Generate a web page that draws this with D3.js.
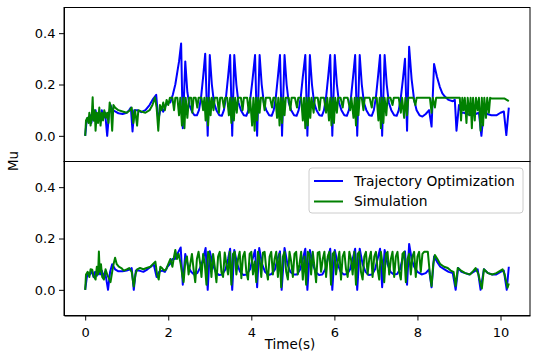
<!DOCTYPE html>
<html>
<head>
<meta charset="utf-8">
<script src="https://cdn.jsdelivr.net/npm/d3@7"></script>
<style>
  body { margin: 0; background: #fff; }
  text { font-family: "DejaVu Sans", sans-serif; fill: #000; }
  .axis path, .axis line { stroke: #000; stroke-width: 1; }
  .axis text { font-size: 13px; }
  .line { fill: none; stroke-width: 2; stroke-linejoin: round; }
</style>
</head>
<body>
<script>
// top panel: trajectory optimization (blue) and simulation (green), [time, mu]
var topTraj = [
	[0.00,0.00],[0.03,0.05],[0.06,0.07],[0.09,0.06],[0.12,0.08],[0.15,0.05],[0.18,0.09],[0.21,0.06],
	[0.25,0.10],[0.28,0.07],[0.32,0.09],[0.36,0.06],[0.40,0.10],[0.44,0.07],[0.48,0.09],[0.53,0.00],
	[0.57,0.08],[0.61,0.12],[0.66,0.10],[0.72,0.095],[0.80,0.088],[0.90,0.085],[1.00,0.09],[1.06,0.10],
	[1.10,0.11],[1.14,0.017],[1.18,0.10],[1.25,0.10],[1.35,0.092],[1.45,0.10],[1.55,0.12],[1.62,0.14],
	[1.71,0.16],[1.76,0.06],[1.82,0.11],[1.88,0.094],[1.94,0.12],[2.00,0.13],[2.05,0.13],[2.11,0.16],
	[2.17,0.20],[2.22,0.25],[2.26,0.29],[2.31,0.36],[2.35,0.03],[2.41,0.29],[2.46,0.17],[2.51,0.12],
	[2.57,0.095],[2.63,0.08],[2.69,0.08],[2.74,0.10],[2.79,0.15],[2.84,0.23],[2.89,0.32],[2.95,0.00],
	[3.00,0.315],[3.05,0.20],[3.10,0.13],[3.16,0.10],[3.23,0.08],[3.29,0.078],[3.34,0.10],[3.39,0.15],
	[3.44,0.23],[3.49,0.315],[3.54,0.00],[3.59,0.315],[3.64,0.20],[3.69,0.13],[3.75,0.10],[3.82,0.08],
	[3.88,0.078],[3.93,0.10],[3.98,0.15],[4.03,0.22],[4.09,0.315],[4.14,0.00],[4.20,0.315],[4.25,0.20],
	[4.30,0.13],[4.36,0.10],[4.43,0.08],[4.49,0.078],[4.54,0.10],[4.59,0.15],[4.64,0.23],[4.69,0.315],
	[4.74,0.00],[4.80,0.315],[4.85,0.20],[4.90,0.13],[4.96,0.10],[5.03,0.08],[5.09,0.078],[5.14,0.10],
	[5.19,0.15],[5.24,0.23],[5.30,0.315],[5.35,0.00],[5.41,0.315],[5.46,0.20],[5.51,0.13],[5.57,0.10],
	[5.64,0.08],[5.70,0.078],[5.75,0.10],[5.80,0.15],[5.85,0.23],[5.90,0.315],[5.95,0.00],[6.01,0.315],
	[6.06,0.20],[6.11,0.13],[6.17,0.10],[6.24,0.08],[6.30,0.078],[6.35,0.10],[6.40,0.15],[6.45,0.23],
	[6.50,0.315],[6.55,0.00],[6.61,0.315],[6.66,0.20],[6.71,0.13],[6.77,0.10],[6.84,0.08],[6.90,0.078],
	[6.95,0.10],[7.00,0.15],[7.05,0.23],[7.10,0.315],[7.15,0.00],[7.21,0.315],[7.26,0.20],[7.31,0.13],
	[7.37,0.10],[7.44,0.08],[7.50,0.078],[7.55,0.10],[7.60,0.15],[7.65,0.22],[7.70,0.30],[7.75,0.02],
	[7.80,0.347],[7.86,0.22],[7.92,0.14],[7.98,0.10],[8.05,0.08],[8.12,0.075],[8.20,0.085],[8.28,0.10],
	[8.34,0.036],[8.40,0.28],[8.47,0.23],[8.54,0.19],[8.60,0.165],[8.66,0.153],[8.75,0.14],[8.85,0.135],
	[8.90,0.14],[8.94,0.02],[9.00,0.12],[9.06,0.09],[9.12,0.09],[9.20,0.085],[9.30,0.08],[9.40,0.085],
	[9.48,0.09],[9.54,0.00],[9.60,0.10],[9.68,0.085],[9.78,0.08],[9.90,0.08],[10.00,0.09],[10.08,0.095],
	[10.14,0.003],[10.20,0.11]
];

var topSim = [
	[0.00,0.00],[0.02,0.06],[0.05,0.07],[0.08,0.05],[0.10,0.09],[0.13,0.04],[0.16,0.08],[0.18,0.15],
	[0.20,0.06],[0.23,0.10],[0.25,0.02],[0.28,0.09],[0.31,0.05],[0.34,0.11],[0.37,0.04],[0.40,0.09],
	[0.43,0.06],[0.46,0.10],[0.50,0.07],[0.53,0.09],[0.56,0.05],[0.59,0.13],[0.62,0.11],[0.65,0.02],
	[0.68,0.12],[0.72,0.11],[0.80,0.10],[0.90,0.095],[1.00,0.09],[1.08,0.10],[1.12,0.11],[1.16,0.05],
	[1.20,0.10],[1.25,0.04],[1.28,0.10],[1.35,0.095],[1.45,0.09],[1.55,0.10],[1.62,0.12],[1.68,0.15],
	[1.72,0.11],[1.76,0.02],[1.80,0.12],[1.84,0.10],[1.88,0.13],[1.92,0.10],[1.96,0.14],[2.00,0.12],
	[2.04,0.148],[2.10,0.148],[2.14,0.10],[2.17,0.148],[2.22,0.148],[2.26,0.08],[2.29,0.148],[2.33,0.04],
	[2.36,0.148],[2.39,0.03],[2.42,0.148],[2.46,0.07],[2.50,0.148],[2.55,0.148],[2.58,0.09],[2.61,0.148],
	[2.66,0.148],[2.70,0.11],[2.73,0.148],[2.80,0.148],[2.84,0.10],[2.87,0.148],[2.90,0.06],[2.93,0.148],
	[2.96,0.04],[2.99,0.148],[3.02,0.08],[3.05,0.148],[3.09,0.10],[3.12,0.148],[3.18,0.148],[3.22,0.09],
	[3.25,0.148],[3.30,0.148],[3.34,0.11],[3.37,0.148],[3.42,0.148],[3.46,0.08],[3.49,0.148],[3.52,0.05],
	[3.55,0.148],[3.58,0.06],[3.61,0.148],[3.65,0.09],[3.68,0.148],[3.75,0.148],[3.79,0.10],[3.82,0.148],
	[3.90,0.148],[3.94,0.09],[3.97,0.148],[4.02,0.04],[4.05,0.148],[4.08,0.02],[4.11,0.148],[4.14,0.06],
	[4.17,0.148],[4.20,0.09],[4.23,0.148],[4.28,0.148],[4.32,0.10],[4.35,0.148],[4.45,0.148],[4.50,0.11],
	[4.53,0.148],[4.58,0.148],[4.62,0.07],[4.65,0.148],[4.68,0.04],[4.71,0.148],[4.74,0.05],[4.77,0.148],
	[4.80,0.08],[4.83,0.148],[4.90,0.148],[4.94,0.10],[4.97,0.148],[5.05,0.148],[5.10,0.11],[5.13,0.148],
	[5.20,0.148],[5.24,0.06],[5.27,0.148],[5.30,0.03],[5.33,0.148],[5.36,0.04],[5.39,0.148],[5.42,0.07],
	[5.45,0.148],[5.50,0.09],[5.53,0.148],[5.60,0.148],[5.64,0.10],[5.67,0.148],[5.75,0.148],[5.80,0.09],
	[5.83,0.148],[5.87,0.06],[5.90,0.148],[5.93,0.04],[5.96,0.148],[5.99,0.05],[6.02,0.148],[6.06,0.09],
	[6.09,0.148],[6.15,0.148],[6.20,0.11],[6.23,0.148],[6.32,0.148],[6.38,0.10],[6.41,0.148],[6.46,0.07],
	[6.49,0.148],[6.52,0.04],[6.55,0.148],[6.58,0.08],[6.61,0.148],[6.66,0.148],[6.70,0.10],[6.73,0.148],
	[6.85,0.148],[6.90,0.11],[6.93,0.148],[7.02,0.148],[7.06,0.06],[7.09,0.148],[7.12,0.03],[7.15,0.148],
	[7.18,0.05],[7.21,0.148],[7.25,0.08],[7.28,0.148],[7.35,0.148],[7.40,0.12],[7.43,0.148],[7.55,0.148],
	[7.60,0.09],[7.63,0.148],[7.68,0.07],[7.71,0.148],[7.75,0.08],[7.78,0.148],[7.90,0.148],[7.95,0.12],
	[7.98,0.148],[8.10,0.148],[8.30,0.148],[8.34,0.09],[8.37,0.148],[8.42,0.11],[8.45,0.148],[8.60,0.148],
	[9.02,0.148],[9.05,0.06],[9.08,0.148],[9.11,0.10],[9.14,0.148],[9.18,0.05],[9.21,0.148],[9.25,0.08],
	[9.28,0.148],[9.31,0.03],[9.34,0.148],[9.38,0.06],[9.41,0.148],[9.45,0.10],[9.48,0.148],[9.52,0.02],
	[9.55,0.148],[9.58,0.04],[9.61,0.148],[9.65,0.07],[9.68,0.148],[9.72,0.09],[9.75,0.148],[9.80,0.145],
	[10.10,0.145],[10.20,0.135]
];

// bottom panel
var botTraj = [
	[0.00,0.00],[0.04,0.05],[0.08,0.065],[0.12,0.06],[0.16,0.075],[0.20,0.05],[0.24,0.07],[0.28,0.055],
	[0.32,0.08],[0.36,0.06],[0.40,0.075],[0.44,0.05],[0.48,0.07],[0.55,0.00],[0.60,0.07],[0.65,0.10],
	[0.72,0.08],[0.80,0.072],[0.90,0.072],[1.00,0.075],[1.08,0.08],[1.12,0.085],[1.17,0.00],[1.22,0.075],
	[1.30,0.075],[1.40,0.07],[1.50,0.08],[1.58,0.09],[1.65,0.10],[1.72,0.05],[1.78,0.07],[1.85,0.075],
	[1.92,0.07],[1.98,0.09],[2.04,0.10],[2.10,0.12],[2.16,0.12],[2.22,0.14],[2.30,0.165],[2.35,0.02],
	[2.41,0.14],[2.48,0.09],[2.55,0.07],[2.62,0.06],[2.70,0.065],[2.78,0.09],[2.84,0.12],[2.90,0.163],
	[2.95,0.00],[3.00,0.15],[3.07,0.10],[3.14,0.07],[3.22,0.058],[3.30,0.06],[3.38,0.08],[3.44,0.12],
	[3.49,0.16],[3.54,0.00],[3.59,0.155],[3.66,0.10],[3.73,0.07],[3.81,0.058],[3.89,0.06],[3.97,0.08],
	[4.03,0.12],[4.09,0.155],[4.14,0.01],[4.19,0.163],[4.26,0.10],[4.33,0.07],[4.41,0.058],[4.49,0.062],
	[4.57,0.08],[4.63,0.12],[4.69,0.15],[4.73,0.00],[4.80,0.163],[4.87,0.10],[4.94,0.07],[5.02,0.06],
	[5.10,0.06],[5.18,0.08],[5.24,0.12],[5.30,0.16],[5.35,0.00],[5.41,0.155],[5.48,0.10],[5.55,0.07],
	[5.63,0.058],[5.71,0.06],[5.78,0.08],[5.84,0.12],[5.90,0.16],[5.95,0.00],[6.01,0.155],[6.08,0.10],
	[6.15,0.07],[6.23,0.06],[6.31,0.062],[6.38,0.08],[6.44,0.12],[6.50,0.16],[6.55,0.00],[6.61,0.16],
	[6.68,0.10],[6.75,0.07],[6.83,0.058],[6.91,0.06],[6.98,0.08],[7.04,0.12],[7.10,0.16],[7.15,0.01],
	[7.21,0.155],[7.28,0.10],[7.35,0.07],[7.43,0.06],[7.51,0.062],[7.58,0.08],[7.64,0.12],[7.70,0.15],
	[7.75,0.02],[7.80,0.179],[7.86,0.12],[7.92,0.09],[8.00,0.07],[8.10,0.06],[8.20,0.065],[8.28,0.08],
	[8.34,0.01],[8.40,0.13],[8.47,0.11],[8.55,0.09],[8.65,0.08],[8.75,0.07],[8.85,0.065],[8.92,0.00],
	[8.98,0.085],[9.06,0.07],[9.15,0.065],[9.25,0.06],[9.35,0.07],[9.45,0.08],[9.52,0.00],[9.60,0.08],
	[9.70,0.065],[9.80,0.06],[9.90,0.06],[10.00,0.07],[10.08,0.075],[10.15,0.00],[10.20,0.09]
];

var botSim = [
	[0.00,0.00],[0.02,0.06],[0.06,0.07],[0.10,0.05],[0.13,0.08],[0.17,0.078],[0.20,0.055],[0.25,0.04],
	[0.28,0.09],[0.31,0.06],[0.33,0.149],[0.35,0.07],[0.38,0.10],[0.41,0.05],[0.45,0.04],[0.49,0.08],
	[0.53,0.06],[0.57,0.045],[0.61,0.03],[0.65,0.07],[0.69,0.105],[0.72,0.125],[0.76,0.10],[0.81,0.09],
	[0.87,0.085],[0.93,0.075],[1.00,0.08],[1.06,0.085],[1.12,0.07],[1.17,0.013],[1.21,0.06],[1.25,0.08],
	[1.32,0.085],[1.40,0.08],[1.48,0.085],[1.57,0.09],[1.63,0.10],[1.69,0.11],[1.73,0.06],[1.77,0.04],
	[1.81,0.09],[1.85,0.085],[1.90,0.075],[1.95,0.08],[2.00,0.10],[2.05,0.12],[2.10,0.09],[2.14,0.13],
	[2.17,0.155],[2.21,0.12],[2.25,0.14],[2.30,0.10],[2.34,0.055],[2.37,0.03],[2.41,0.11],[2.45,0.13],
	[2.49,0.06],[2.53,0.10],[2.57,0.14],[2.61,0.08],[2.65,0.03],[2.69,0.12],[2.73,0.148],[2.77,0.10],
	[2.80,0.05],[2.84,0.14],[2.88,0.10],[2.92,0.02],[2.96,0.148],[3.00,0.13],[3.04,0.05],[3.08,0.14],
	[3.12,0.09],[3.16,0.03],[3.20,0.13],[3.24,0.148],[3.28,0.07],[3.32,0.05],[3.36,0.145],[3.40,0.10],
	[3.44,0.06],[3.48,0.148],[3.52,0.02],[3.56,0.14],[3.60,0.148],[3.64,0.06],[3.68,0.12],[3.72,0.148],
	[3.76,0.045],[3.80,0.13],[3.84,0.148],[3.88,0.07],[3.92,0.04],[3.96,0.14],[4.00,0.148],[4.04,0.06],
	[4.08,0.11],[4.12,0.03],[4.16,0.148],[4.20,0.12],[4.24,0.05],[4.28,0.145],[4.32,0.148],[4.36,0.08],
	[4.40,0.04],[4.44,0.13],[4.48,0.148],[4.52,0.06],[4.56,0.12],[4.60,0.148],[4.64,0.05],[4.68,0.14],
	[4.72,0.01],[4.76,0.13],[4.80,0.148],[4.84,0.07],[4.88,0.04],[4.92,0.148],[4.96,0.11],[5.00,0.05],
	[5.04,0.14],[5.08,0.148],[5.12,0.06],[5.16,0.10],[5.20,0.148],[5.24,0.04],[5.28,0.13],[5.32,0.02],
	[5.36,0.148],[5.40,0.14],[5.44,0.06],[5.48,0.148],[5.52,0.09],[5.56,0.03],[5.60,0.145],[5.64,0.148],
	[5.68,0.07],[5.72,0.12],[5.76,0.148],[5.80,0.05],[5.84,0.13],[5.88,0.148],[5.92,0.02],[5.96,0.14],
	[6.00,0.148],[6.04,0.06],[6.08,0.11],[6.12,0.148],[6.16,0.04],[6.20,0.13],[6.24,0.148],[6.28,0.08],
	[6.32,0.05],[6.36,0.148],[6.40,0.12],[6.44,0.06],[6.48,0.148],[6.52,0.02],[6.56,0.14],[6.60,0.148],
	[6.64,0.07],[6.68,0.04],[6.72,0.13],[6.76,0.148],[6.80,0.06],[6.84,0.12],[6.88,0.148],[6.92,0.05],
	[6.96,0.13],[7.00,0.148],[7.04,0.08],[7.08,0.04],[7.12,0.148],[7.16,0.10],[7.20,0.03],[7.24,0.14],
	[7.28,0.148],[7.32,0.06],[7.36,0.12],[7.40,0.148],[7.44,0.05],[7.48,0.13],[7.52,0.148],[7.56,0.07],
	[7.60,0.04],[7.64,0.14],[7.68,0.148],[7.72,0.03],[7.76,0.12],[7.80,0.14],[7.84,0.06],[7.88,0.13],
	[7.92,0.148],[7.96,0.05],[8.00,0.13],[8.04,0.148],[8.08,0.07],[8.12,0.14],[8.16,0.148],[8.25,0.148],
	[8.30,0.06],[8.34,0.015],[8.38,0.10],[8.42,0.136],[8.48,0.12],[8.55,0.10],[8.64,0.09],[8.73,0.085],
	[8.80,0.075],[8.87,0.07],[8.92,0.015],[8.97,0.085],[9.05,0.075],[9.15,0.065],[9.27,0.06],[9.35,0.075],
	[9.40,0.085],[9.47,0.06],[9.51,0.03],[9.55,0.005],[9.60,0.08],[9.70,0.065],[9.80,0.06],[9.90,0.065],
	[10.00,0.075],[10.05,0.08],[10.10,0.06],[10.17,0.008],[10.20,0.025]
];

var seriesNames = ["Trajectory Optimization", "Simulation"];
var seriesColors = ["#0000ff", "#008000"];
var xTicks = [0, 2, 4, 6, 8, 10];
var yTicks = [0.0, 0.2, 0.4];

var W = 538, H = 357;
var left = 64, right = 530;
var panels = [{top: 7.5, bottom: 161.5}, {top: 161.5, bottom: 315.5}];

var svg = d3.select("body").append("svg")
	.attr("width", W)
	.attr("height", H);

var x = d3.scaleLinear().domain([-0.51, 10.71]).range([left, right]);

var line = function (y) {
	return d3.line()
		.x(function (d) { return x(d[0]); })
		.y(function (d) { return y(d[1]); });
};

function drawPanel(p, traj, sim, showX) {
	var y = d3.scaleLinear().domain([-0.1, 0.5]).range([p.bottom, p.top]);

	var clipId = "clip" + Math.round(p.top);
	svg.append("clipPath").attr("id", clipId)
		.append("rect")
		.attr("x", left).attr("y", p.top)
		.attr("width", right - left).attr("height", p.bottom - p.top);

	var g = svg.append("g").attr("clip-path", "url(#" + clipId + ")");

	g.append("path")
		.datum(traj)
		.attr("class", "line")
		.attr("stroke", seriesColors[0])
		.attr("d", line(y));

	g.append("path")
		.datum(sim)
		.attr("class", "line")
		.attr("stroke", seriesColors[1])
		.attr("d", line(y));

	svg.append("g")
		.attr("class", "axis")
		.attr("transform", "translate(" + left + ",0)")
		.call(d3.axisLeft(y)
			.tickValues(yTicks)
			.tickSize(5)
			.tickPadding(3.5)
			.tickSizeOuter(0)
			.tickFormat(d3.format(".1f")));

	if (showX) {
		svg.append("g")
			.attr("class", "axis")
			.attr("transform", "translate(0," + p.bottom + ")")
			.call(d3.axisBottom(x)
				.tickValues(xTicks)
				.tickSize(5)
				.tickPadding(7)
				.tickSizeOuter(0)
				.tickFormat(d3.format("d")));
	}

	svg.append("rect")
		.attr("x", left).attr("y", p.top)
		.attr("width", right - left).attr("height", p.bottom - p.top)
		.attr("fill", "none")
		.attr("stroke", "#000")
		.attr("stroke-width", 1);

	return y;
}

drawPanel(panels[0], topTraj, topSim, false);
drawPanel(panels[1], botTraj, botSim, true);

// legend in the lower panel
var legend = svg.append("g").attr("transform", "translate(309,168)");
legend.append("rect")
	.attr("width", 214).attr("height", 45)
	.attr("rx", 3)
	.attr("fill", "#fff").attr("fill-opacity", 0.8)
	.attr("stroke", "#ccc");

seriesNames.forEach(function (name, i) {
	var ly = 13 + i * 20.5;
	legend.append("line")
		.attr("x1", 5).attr("x2", 34)
		.attr("y1", ly).attr("y2", ly)
		.attr("stroke", seriesColors[i])
		.attr("stroke-width", 2);
	legend.append("text")
		.attr("x", 45).attr("y", ly)
		.attr("dy", "0.35em")
		.style("font-size", "13.8px")
		.text(name);
});

svg.append("text")
	.attr("transform", "translate(18,161) rotate(-90)")
	.attr("text-anchor", "middle")
	.style("font-size", "13.5px")
	.text("Mu");

svg.append("text")
	.attr("x", 290).attr("y", 349)
	.attr("text-anchor", "middle")
	.style("font-size", "13.5px")
	.text("Time(s)");
</script>
</body>
</html>
